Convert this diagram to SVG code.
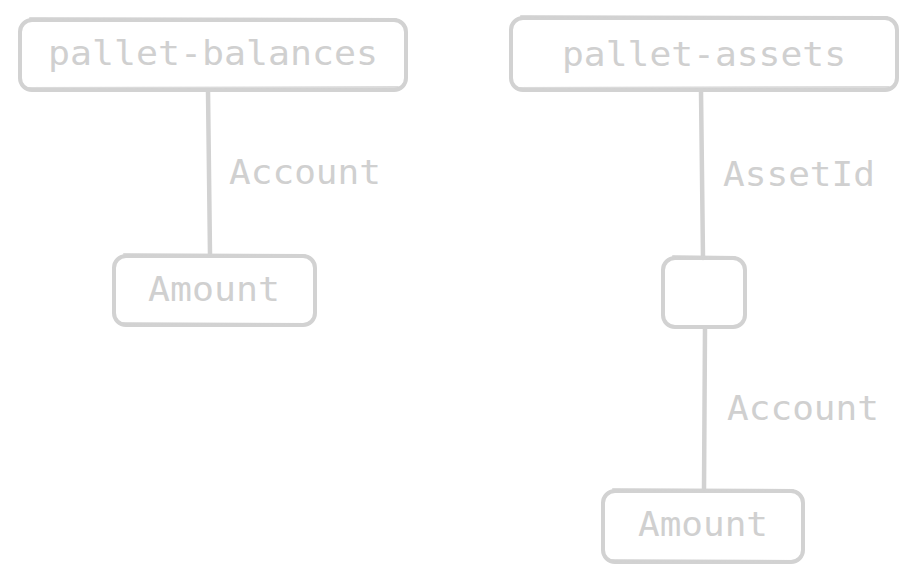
<svg xmlns="http://www.w3.org/2000/svg" width="916" height="581" viewBox="0 0 916 581">
<style>
.box{fill:none;stroke:#d2d2d2;stroke-width:4;stroke-linecap:round;stroke-linejoin:round}
.sk{fill:none;stroke:#d2d2d2;stroke-width:2;stroke-linecap:round;opacity:0.8}
.edge{fill:none;stroke:#d2d2d2;stroke-width:4.5;stroke-linecap:round}
.t{font-family:"DejaVu Sans Mono","Liberation Mono",monospace;font-size:33px;fill:#d0d0d0}
</style>
<rect width="916" height="581" fill="#ffffff"/>
<g id="connectors">
<path class="edge" d="M208 91 L210 255"/>
<path class="edge" d="M701 91 L703 258"/>
<path class="edge" d="M705 328 L704 490"/>
<text class="t" x="229" y="184" textLength="152" lengthAdjust="spacingAndGlyphs">Account</text>
<text class="t" x="723" y="186" textLength="152" lengthAdjust="spacingAndGlyphs">AssetId</text>
<text class="t" x="727" y="420" textLength="152" lengthAdjust="spacingAndGlyphs">Account</text>
</g>
<g id="pallet-balances">
<rect class="box" x="20" y="20" width="386" height="70" rx="12"/>
<path class="sk" d="M30 18 L396 19 M24 88 L398 87"/>
<text class="t" x="48" y="65" textLength="330" lengthAdjust="spacingAndGlyphs">pallet-balances</text>
</g>
<g id="amount-1">
<rect class="box" x="114" y="256" width="201" height="69" rx="12"/>
<path class="sk" d="M124 254 L305 255 M118 323 L307 324"/>
<text class="t" x="148" y="301" textLength="132" lengthAdjust="spacingAndGlyphs">Amount</text>
</g>
<g id="pallet-assets">
<rect class="box" x="511" y="18" width="386" height="72" rx="12"/>
<path class="sk" d="M521 16 L887 17 M515 88 L889 87"/>
<text class="t" x="562" y="66" textLength="284" lengthAdjust="spacingAndGlyphs">pallet-assets</text>
</g>
<g id="asset-node">
<rect class="box" x="663" y="258" width="82" height="69" rx="12"/>
<path class="sk" d="M673 256 L735 257"/>
</g>
<g id="amount-2">
<rect class="box" x="603" y="491" width="200" height="71" rx="12"/>
<path class="sk" d="M613 489 L793 490 M607 560 L795 561"/>
<text class="t" x="638" y="536" textLength="130" lengthAdjust="spacingAndGlyphs">Amount</text>
</g>
</svg>
